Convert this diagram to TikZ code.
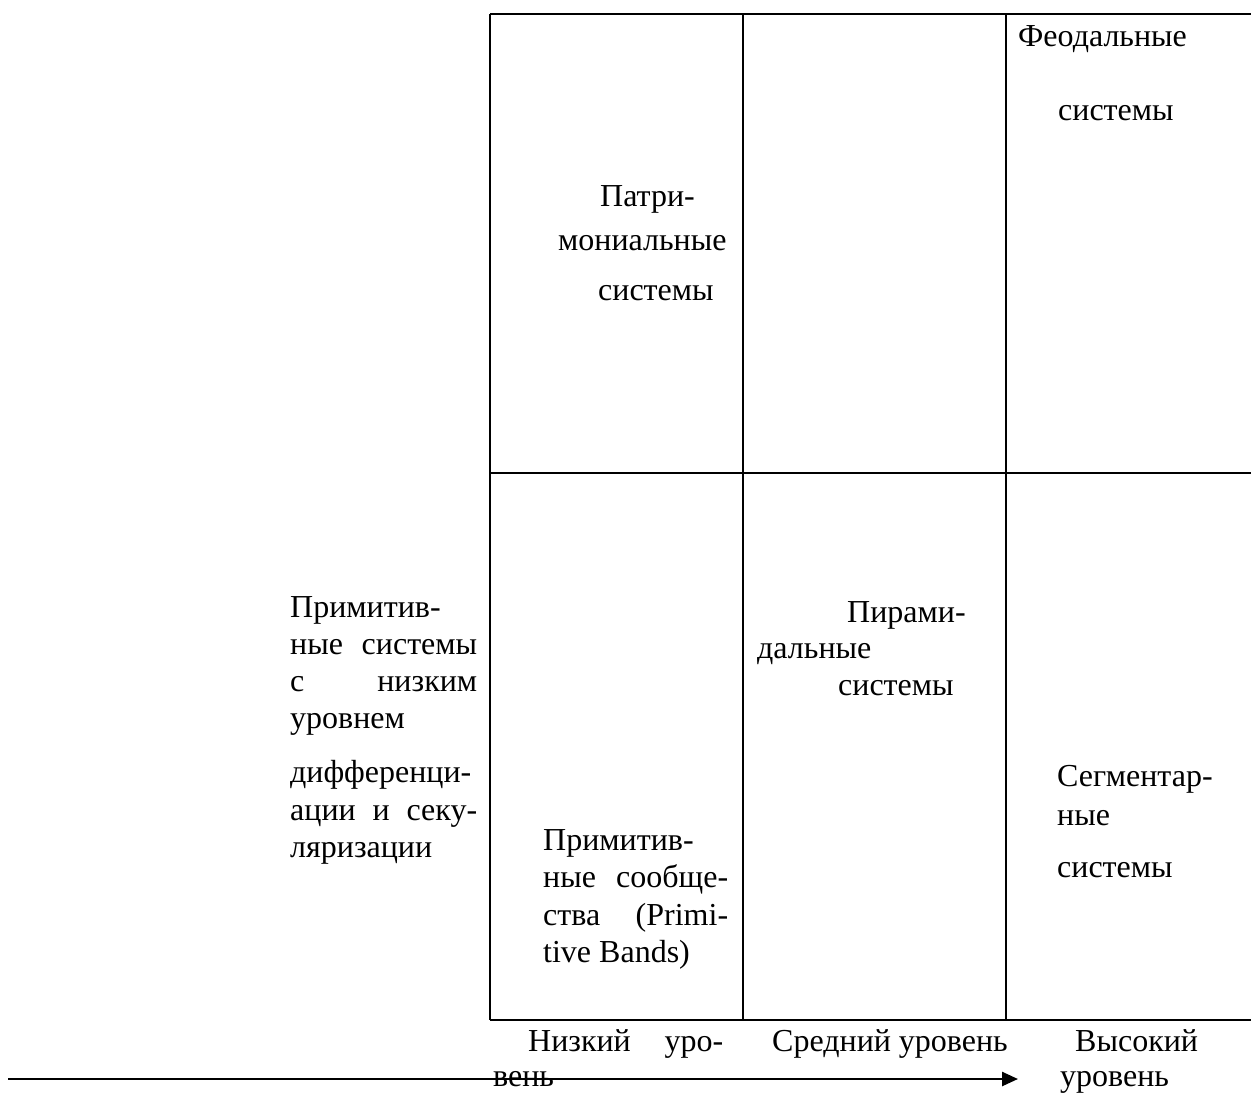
\documentclass[tikz,border=0pt]{standalone}
\usepackage{fontspec}
\setmainfont{Liberation Serif}
\usetikzlibrary{arrows.meta}
\begin{document}
\begin{tikzpicture}[x=1pt,y=-1pt,
  lbl/.style={anchor=base west,inner sep=0pt,font=\fontsize{32}{37}\selectfont},
  gridline/.style={line width=2.5pt}]
\useasboundingbox (0,0) rectangle (1251,1093);
% grid
\coordinate (tl) at (490,14);
\coordinate (tr) at (1251,14);
\coordinate (ml) at (490,473);
\coordinate (mr) at (1251,473);
\coordinate (bl) at (490,1020);
\coordinate (br) at (1251,1020);
\coordinate (c2t) at (743,14);
\coordinate (c2b) at (743,1020);
\coordinate (c3t) at (1006,14);
\coordinate (c3b) at (1006,1020);
\draw[gridline] (tl) -- (tr);
\draw[gridline] (ml) -- (mr);
\draw[gridline] (bl) -- (br);
\draw[gridline] (tl) -- (bl);
\draw[gridline] (c2t) -- (c2b);
\draw[gridline] (c3t) -- (c3b);
% arrow
\coordinate (as) at (8,1079);
\coordinate (ae) at (1018,1079);
\draw[line width=2.5pt,-{Triangle[length=16pt,width=14pt]}] (as) -- (ae);
% feudal
\node[lbl] (f1) at (1018,46) {Феодальные};
\node[lbl] (f2) at (1058,120) {системы};
% patrimonial
\node[lbl] (p1) at (600,206) {Патри-};
\node[lbl] (p2) at (558,250) {мониальные};
\node[lbl] (p3) at (598,300) {системы};
% left block
\node[lbl] (l1) at (290,617) {Примитив-};
\node[lbl] (l2) at (290,654) {\makebox[187pt][s]{ные \hfill системы}};
\node[lbl] (l3) at (290,691) {\makebox[187pt][s]{с \hfill низким}};
\node[lbl] (l4) at (290,728) {уровнем};
\node[lbl] (l5) at (290,782) {дифференци-};
\node[lbl] (l6) at (290,820) {\makebox[187pt][s]{ации \hfill и \hfill секу-}};
\node[lbl] (l7) at (290,857) {ляризации};
% primitive bands
\node[lbl] (b1) at (543,850) {Примитив-};
\node[lbl] (b2) at (543,887) {\makebox[185pt][s]{ные \hfill сообще-}};
\node[lbl] (b3) at (543,925) {\makebox[185pt][s]{ства \hfill (Primi-}};
\node[lbl] (b4) at (543,962) {tive Bands)};
% pyramidal
\node[lbl] (y1) at (847,622) {Пирами-};
\node[lbl] (y2) at (757,658) {дальные};
\node[lbl] (y3) at (838,695) {системы};
% segmentary
\node[lbl] (s1) at (1057,786) {Сегментар-};
\node[lbl] (s2) at (1057,825) {ные};
\node[lbl] (s3) at (1057,877) {системы};
% axis labels
\node[lbl] (n1) at (528,1051) {\makebox[195pt][s]{Низкий \hfill уро-}};
\node[lbl] (n2) at (493,1086) {вень};
\node[lbl] (m1) at (772,1051) {Средний уровень};
\node[lbl] (h1) at (1075,1051) {Высокий};
\node[lbl] (h2) at (1060,1086) {уровень};
\end{tikzpicture}
\end{document}
